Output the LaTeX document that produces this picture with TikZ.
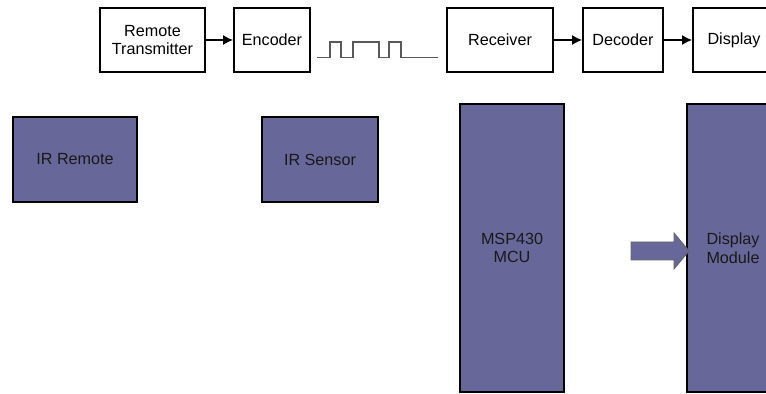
\documentclass[tikz,border=0pt]{standalone}
\usepackage{fontspec}
\setmainfont{Liberation Sans}
\usetikzlibrary{arrows.meta}
\usepackage{xcolor}
\definecolor{blockfill}{RGB}{103,104,153}

\begin{document}
\begin{tikzpicture}[x=0.02cm, y=-0.02cm,
  font=\fontsize{9.2}{10.5}\selectfont,
  plainbox/.style={draw=black, line width=1.1pt, fill=white, inner sep=0pt, align=center, minimum height=1.28cm},
  hwbox/.style={draw=black, line width=1.4pt, fill=blockfill, inner sep=0pt, align=center, text=black!90},
  arr/.style={-{Latex[length=2mm,width=2mm]}, line width=0.8pt},
  pulse/.style={draw=black!65, line width=0.9pt},
  feed/.style={draw=black!60, line width=0.5pt, fill=blockfill}]
  \useasboundingbox (0,0) rectangle (766,394);
  \clip (0,0) rectangle (766,394);
  % signal chain
  \node[plainbox, minimum width=2.1cm] (rtx) at (152.5,40) {Remote\\Transmitter};
  \node[plainbox, minimum width=1.52cm] (enc) at (272,40) {Encoder};
  \node[plainbox, minimum width=2.12cm] (rcv) at (500,40) {Receiver};
  \node[plainbox, minimum width=1.6cm] (dec) at (623,40) {Decoder};
  \node[plainbox, minimum width=1.64cm] (disp) at (734,40) {Display};
  \draw[arr] (rtx) -- (enc);
  \draw[arr] (rcv) -- (dec);
  \draw[arr] (dec) -- (disp);
  % ir pulse train
  \draw[pulse] (317,57.7) -- (330,57.7) -- (330,42) -- (341,42) -- (341,57.7)
    -- (353,57.7) -- (353,42) -- (379,42) -- (379,57.7)
    -- (389,57.7) -- (389,42) -- (401,42) -- (401,57.7) -- (438,57.7);
  % hardware blocks
  \node[hwbox, minimum width=2.48cm, minimum height=1.7cm] (irrem) at (75,159.5) {IR Remote};
  \node[hwbox, minimum width=2.32cm, minimum height=1.7cm] (irsen) at (320,159.5) {IR Sensor};
  \node[hwbox, minimum width=2.08cm, minimum height=5.76cm] (mcu) at (512,248) {MSP430\\MCU};
  \node[hwbox, minimum width=1.84cm, minimum height=5.76cm] (dmod) at (733,248) {Display\\Module};
  % block arrow into the display module
  \coordinate (tip) at (689,251);
  \draw[feed] (tip) -- ++(-15,-18) -- ++(0,9) -- ++(-43,0) -- ++(0,18) -- ++(43,0) -- ++(0,9) -- cycle;
\end{tikzpicture}
\end{document}
